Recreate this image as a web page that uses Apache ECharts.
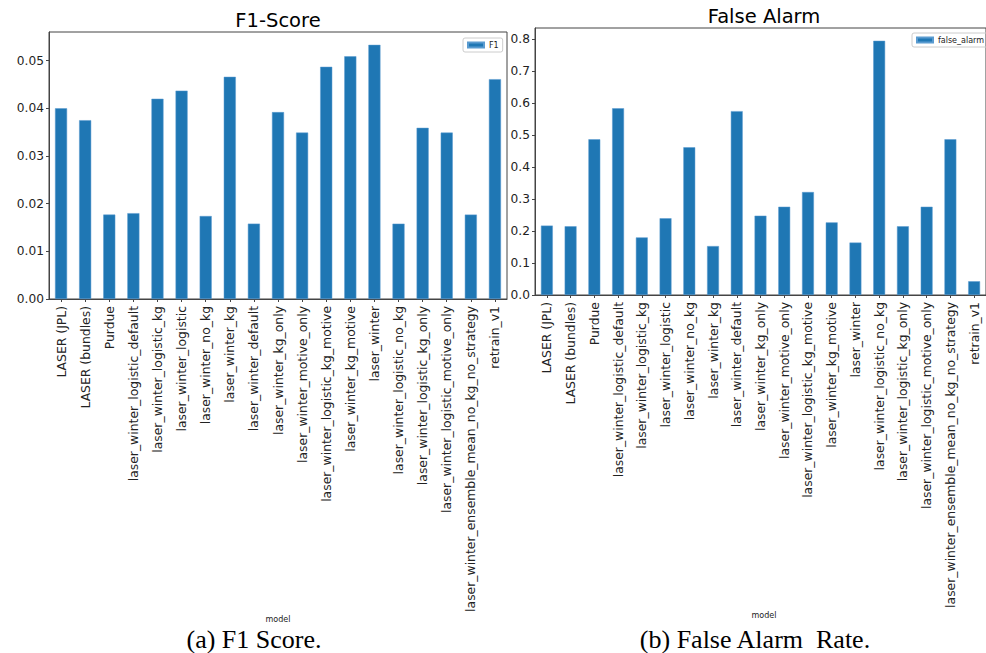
<!DOCTYPE html>
<html>
<head>
<meta charset="utf-8">
<title>F1 Score and False Alarm Rate by model</title>
<script src="https://cdn.jsdelivr.net/npm/echarts@6/dist/echarts.min.js"></script>
<style>
  html, body { margin: 0; padding: 0; background: #fff; }
  #chart { width: 986px; height: 653px; }
</style>
</head>
<body>
<div id="chart"></div>
<script>
// Model names shared by both panels
const models = [
  'LASER (JPL)', 'LASER (bundles)', 'Purdue', 'laser_winter_logistic_default',
  'laser_winter_logistic_kg', 'laser_winter_logistic', 'laser_winter_no_kg',
  'laser_winter_kg', 'laser_winter_default', 'laser_winter_kg_only',
  'laser_winter_motive_only', 'laser_winter_logistic_kg_motive',
  'laser_winter_kg_motive', 'laser_winter', 'laser_winter_logistic_no_kg',
  'laser_winter_logistic_kg_only', 'laser_winter_logistic_motive_only',
  'laser_winter_ensemble_mean_no_kg_no_strategy', 'retrain_v1'
];

// F1 score per model
const f1Values = [
  0.0400, 0.0375, 0.0177, 0.0180, 0.0420, 0.0437, 0.0174, 0.0466, 0.0158,
  0.0392, 0.0349, 0.0487, 0.0509, 0.0533, 0.0158, 0.0359, 0.0349, 0.0177, 0.0461
];

// False alarm rate per model
const falseAlarmValues = [
  0.217, 0.215, 0.487, 0.584, 0.180, 0.240, 0.462, 0.153, 0.575,
  0.248, 0.276, 0.322, 0.227, 0.164, 0.795, 0.215, 0.276, 0.487, 0.043
];

// Y tick labels
const f1Ticks = [0.00, 0.01, 0.02, 0.03, 0.04, 0.05];
const falseAlarmTicks = [0.0, 0.1, 0.2, 0.3, 0.4, 0.5, 0.6, 0.7, 0.8];

const BAR = '#1f77b4';
const INK = '#222';
const FRAME = '#444';
const SANS = '"DejaVu Sans", sans-serif';
const SERIF = '"Liberation Serif", "DejaVu Serif", serif';

const chart = echarts.init(document.getElementById('chart'), null, { renderer: 'svg' });

function catAxis(gridIndex) {
  return {
    type: 'category',
    gridIndex: gridIndex,
    data: models,
    boundaryGap: true,
    axisLine: { show: true, lineStyle: { color: FRAME, width: 1 } },
    axisTick: { show: true, alignWithLabel: true, length: 3, lineStyle: { color: FRAME } },
    axisLabel: {
      rotate: 90, interval: 0, margin: 7,
      fontFamily: SANS, fontSize: 12.4, color: INK
    },
    splitLine: { show: false }
  };
}

function valAxis(gridIndex, max, ticks, digits) {
  return {
    type: 'value',
    gridIndex: gridIndex,
    min: 0,
    max: max,
    axisLine: { show: true, lineStyle: { color: FRAME, width: 1 } },
    axisTick: { show: true, length: 3, lineStyle: { color: FRAME }, customValues: ticks },
    axisLabel: {
      fontFamily: SANS, fontSize: 12.2, color: INK, margin: 5,
      customValues: ticks,
      formatter: v => v.toFixed(digits)
    },
    splitLine: { show: false }
  };
}

const titleStyle = { fontFamily: SANS, fontSize: 19.5, fontWeight: 'normal', color: '#000' };

const option = {
  backgroundColor: '#fff',
  animation: false,
  title: [
    { text: 'F1-Score', left: 278, top: 10, padding: 0, textAlign: 'center', textStyle: titleStyle },
    { text: 'False Alarm', left: 764, top: 6, padding: 0, textAlign: 'center', textStyle: titleStyle }
  ],
  legend: [
    {
      data: ['F1'], left: 463, top: 38, orient: 'vertical',
      icon: 'rect', itemWidth: 16, itemHeight: 5, padding: [3, 4],
      borderColor: '#ccc', borderWidth: 1, borderRadius: 2,
      textStyle: { fontFamily: SANS, fontSize: 8, color: INK }
    },
    {
      data: ['false_alarm'], left: 912, top: 33, orient: 'vertical',
      icon: 'rect', itemWidth: 16, itemHeight: 5, padding: [3, 4],
      borderColor: '#ccc', borderWidth: 1, borderRadius: 2,
      textStyle: { fontFamily: SANS, fontSize: 8, color: INK }
    }
  ],
  grid: [
    { left: 49, top: 32, width: 458, height: 267, show: true, borderColor: FRAME, borderWidth: 1, containLabel: false },
    { left: 535, top: 28, width: 458, height: 267, show: true, borderColor: FRAME, borderWidth: 1, containLabel: false }
  ],
  xAxis: [catAxis(0), catAxis(1)],
  yAxis: [
    valAxis(0, 0.056, f1Ticks, 2),
    valAxis(1, 0.835, falseAlarmTicks, 1)
  ],
  series: [
    {
      name: 'F1', type: 'bar', xAxisIndex: 0, yAxisIndex: 0,
      data: f1Values, barWidth: '50%',
      itemStyle: { color: BAR, borderColor: '#5a9bd0', borderWidth: 0.5 }
    },
    {
      name: 'false_alarm', type: 'bar', xAxisIndex: 1, yAxisIndex: 1,
      data: falseAlarmValues, barWidth: '50%',
      itemStyle: { color: BAR, borderColor: '#5a9bd0', borderWidth: 0.5 }
    }
  ],
  graphic: [
    {
      type: 'text', x: 278, y: 619,
      style: { text: 'model', fontFamily: SANS, fontSize: 8, fill: INK, align: 'center', verticalAlign: 'middle' }
    },
    {
      type: 'text', x: 764, y: 615,
      style: { text: 'model', fontFamily: SANS, fontSize: 8, fill: INK, align: 'center', verticalAlign: 'middle' }
    },
    {
      type: 'text', x: 254, y: 639,
      style: { text: '(a) F1 Score.', fontFamily: SERIF, fontSize: 26, fill: '#000', align: 'center', verticalAlign: 'middle' }
    },
    {
      type: 'text', x: 755, y: 639,
      style: { text: '(b) False Alarm  Rate.', fontFamily: SERIF, fontSize: 26, fill: '#000', align: 'center', verticalAlign: 'middle' }
    }
  ]
};

chart.setOption(option);
</script>
</body>
</html>
